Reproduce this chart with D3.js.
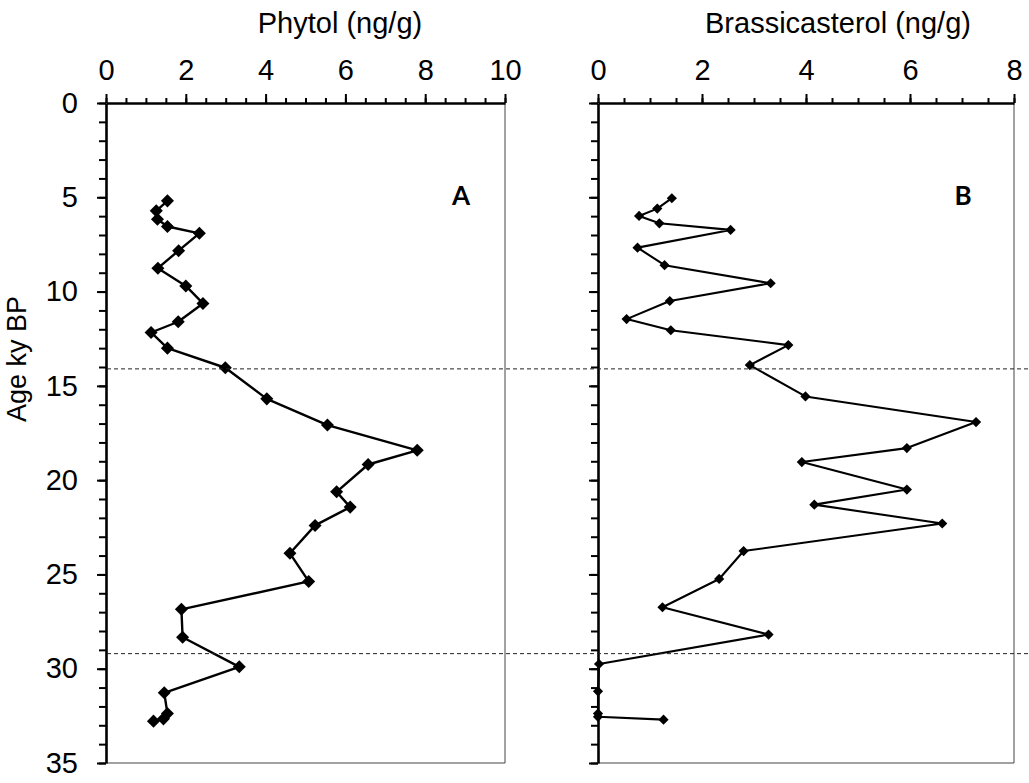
<!DOCTYPE html>
<html>
<head>
<meta charset="utf-8">
<script src="https://cdn.jsdelivr.net/npm/d3@7"></script>
<style>
  body { margin: 0; background: #fff; }
  svg { display: block; }
  text { font-family: "Liberation Sans", Arial, sans-serif; fill: #000; }
</style>
</head>
<body>
<svg width="1029" height="783"></svg>
<script>
// data (age in ky BP, concentrations in ng/g)
const phytolAge = [5.19, 5.72, 6.17, 6.55, 6.91, 7.83, 8.76, 9.70, 10.63, 11.6, 12.17, 13.0, 14.04,
  15.69, 17.08, 18.42, 19.17, 20.62, 21.43, 22.4, 23.88, 25.37, 26.85, 28.33, 29.9, 31.28, 32.38, 32.66, 32.78];
const phytol = [1.54, 1.26, 1.29, 1.54, 2.34, 1.82, 1.30, 2.0, 2.43, 1.81, 1.13, 1.54, 2.99,
  4.03, 5.55, 7.80, 6.57, 5.78, 6.12, 5.24, 4.61, 5.08, 1.89, 1.92, 3.34, 1.46, 1.54, 1.44, 1.19];

const brassAge = [5.05, 5.6, 5.99, 6.38, 6.73, 7.67, 8.6, 9.56, 10.5, 11.46, 12.05, 12.84, 13.9,
  15.56, 16.92, 18.3, 19.04, 20.5, 21.3, 22.3, 23.76, 25.24, 26.74, 28.19, 29.75, 31.2, 32.38, 32.55, 32.7];
const brass = [1.42, 1.14, 0.79, 1.18, 2.55, 0.76, 1.28, 3.32, 1.38, 0.55, 1.40, 3.66, 2.92,
  3.99, 7.27, 5.94, 3.92, 5.94, 4.16, 6.62, 2.80, 2.33, 1.24, 3.28, 0.02, 0, 0, 0, 1.26];

const ageTicks = [0, 5, 10, 15, 20, 25, 30, 35];
const boundaries = [14.1, 29.2];

const svg = d3.select("svg");
const fs = 29;

// shared depth (age) scale
const y = d3.scaleLinear().domain([0, 35]).range([103, 763]);

const panels = [
  { label: "A", title: "Phytol (ng/g)", max: 10, range: [106, 505], age: phytolAge, vals: phytol,
    labels: true, sym: 85, lw: 2.4, titleX: 340, tagX: 461 },
  { label: "B", title: "Brassicasterol (ng/g)", max: 8, range: [598, 1014], age: brassAge, vals: brass,
    labels: false, sym: 52, lw: 2.1, titleX: 838, tagX: 963 }
];

panels.forEach(p => {
  const x = d3.scaleLinear().domain([0, p.max]).range(p.range);
  const g = svg.append("g");

  // thin frame on right and bottom
  g.append("line")
    .attr("x1", p.range[1]).attr("x2", p.range[1])
    .attr("y1", y(0)).attr("y2", y(35))
    .attr("stroke", "#444").attr("stroke-width", 1);
  g.append("line")
    .attr("x1", p.range[0]).attr("x2", p.range[1])
    .attr("y1", y(35)).attr("y2", y(35))
    .attr("stroke", "#444").attr("stroke-width", 1);

  // top axis: minor then major
  g.append("g")
    .attr("transform", `translate(0,${y(0)})`)
    .call(d3.axisTop(x).tickValues(d3.range(0, p.max + 0.01, 0.5)).tickSize(5).tickSizeOuter(0).tickFormat(""))
    .call(a => a.select(".domain").remove())
    .call(a => a.selectAll("line").attr("stroke-width", 2));
  g.append("g")
    .attr("transform", `translate(0,${y(0)})`)
    .call(d3.axisTop(x).tickValues(d3.range(0, p.max + 0.01, 2)).tickSize(9).tickSizeOuter(0).tickPadding(14))
    .call(a => a.select(".domain").attr("stroke-width", 2.6))
    .call(a => a.selectAll("line").attr("stroke-width", 2))
    .call(a => a.selectAll("text").attr("font-size", fs).attr("font-family", "Liberation Sans"));

  // left axis: minor then major
  g.append("g")
    .attr("transform", `translate(${p.range[0]},0)`)
    .call(d3.axisLeft(y).tickValues(d3.range(0, 35.01, 1)).tickSize(7).tickSizeOuter(0).tickFormat(""))
    .call(a => a.select(".domain").remove())
    .call(a => a.selectAll("line").attr("stroke-width", 2));
  g.append("g")
    .attr("transform", `translate(${p.range[0]},0)`)
    .call(d3.axisLeft(y).tickValues(ageTicks).tickSize(9).tickSizeOuter(0).tickPadding(19)
      .tickFormat(p.labels ? d3.format("d") : ""))
    .call(a => a.select(".domain").attr("stroke-width", 2.6))
    .call(a => a.selectAll("line").attr("stroke-width", 2))
    .call(a => a.selectAll("text").attr("font-size", fs).attr("font-family", "Liberation Sans"));

  // axis title
  g.append("text")
    .attr("x", p.titleX).attr("y", 33)
    .attr("text-anchor", "middle")
    .attr("font-size", fs)
    .text(p.title);

  // panel tag
  g.append("text")
    .attr("x", p.tagX).attr("y", 205)
    .attr("text-anchor", "middle")
    .attr("font-size", 26).attr("font-weight", "bold")
    .style("font-family", "Lato, 'Open Sans', sans-serif")
    .text(p.label);

  // profile line
  const pts = p.age.map((a, i) => [x(p.vals[i]), y(a)]);
  g.append("path")
    .attr("d", d3.line()(pts))
    .attr("fill", "none")
    .attr("stroke", "#000")
    .attr("stroke-width", p.lw)
    .attr("stroke-linejoin", "round");

  g.selectAll(".pt")
    .data(pts)
    .join("path")
    .attr("class", "pt")
    .attr("d", d3.symbol(d3.symbolSquare, p.sym))
    .attr("transform", d => `translate(${d[0]},${d[1]}) rotate(45)`)
    .attr("fill", "#000");
});

// dashed boundaries across both panels
svg.selectAll(".bound")
  .data(boundaries)
  .join("line")
  .attr("class", "bound")
  .attr("x1", 107).attr("x2", 1029)
  .attr("y1", d => y(d)).attr("y2", d => y(d))
  .attr("stroke", "#222")
  .attr("stroke-width", 1)
  .attr("stroke-dasharray", "4,3");

// y axis title
svg.append("text")
  .attr("transform", `translate(26,359) rotate(-90)`)
  .attr("text-anchor", "middle")
  .attr("font-size", 27)
  .text("Age ky BP");
</script>
</body>
</html>
